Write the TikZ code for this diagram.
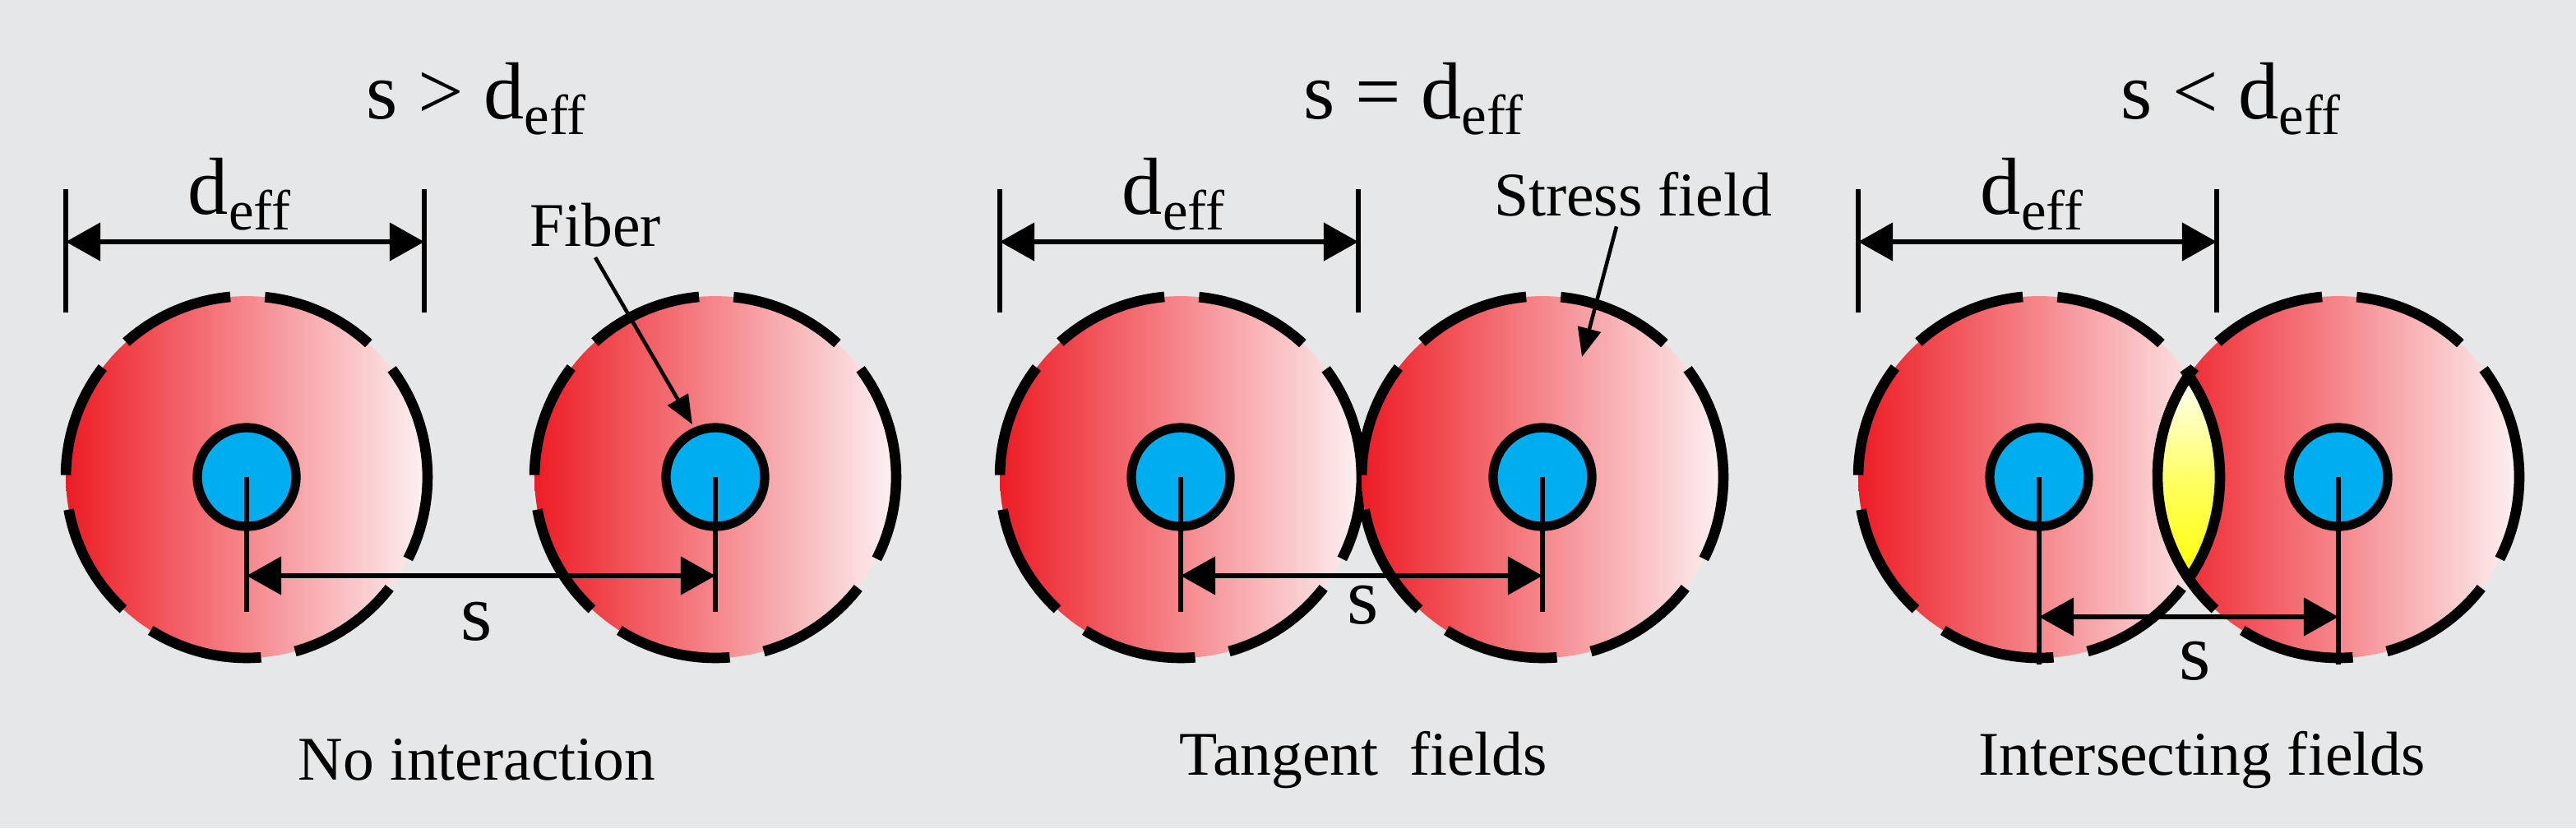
\documentclass[tikz,border=0pt]{standalone}
\usepackage{fontspec}
\setmainfont{Liberation Serif}
\usetikzlibrary{arrows.meta}
\definecolor{bggray}{HTML}{E6E7E8}
\definecolor{fieldred}{HTML}{ED1C24}
\definecolor{fieldpale}{HTML}{FDF2F3}
\definecolor{fibercyan}{HTML}{00AEEF}
\tikzset{
  field/.style={left color=fieldred, right color=fieldpale},
  rim/.style={line width=3.6pt, dash pattern=on 40pt off 12pt},
  fiber/.style={circle, fill=fibercyan, draw=black, line width=3.2pt, minimum size=1.2cm, inner sep=0pt},
  dim/.style={line width=1.7pt, {Triangle[length=12pt,width=13pt]}-{Triangle[length=12pt,width=13pt]}},
  tick/.style={line width=1.6pt},
  pointer/.style={line width=1.3pt, -{Triangle[length=10pt,width=8pt]}},
  big/.style={font=\fontsize{28}{32}\selectfont},
  small/.style={font=\fontsize{21.5}{25}\selectfont},
}
\begin{document}
\begin{tikzpicture}[x=0.02cm, y=-0.02cm]
  \fill[bggray] (0,0) rectangle (1566.5,503.5);
  \useasboundingbox (0,0) rectangle (1566.5,503.5);

  % stress fields
  \foreach \cx in {150,435,718,938,1240,1422} {
    \shade[field] (\cx,290) circle (2.2cm);
    \draw[rim] (\cx,290) circle (2.2cm);
  }

  % intersecting lens
  \begin{scope}
    \clip (1240,290) circle (2.2cm);
    \clip (1422,290) circle (2.2cm);
    \shade[top color=white, bottom color=yellow, middle color=white!40!yellow] (1300,226) rectangle (1362,354);
  \end{scope}
  \begin{scope}
    \clip (1240,290) circle (2.2cm);
    \draw[line width=3.6pt] (1422,290) circle (2.2cm);
  \end{scope}
  \begin{scope}
    \clip (1422,290) circle (2.2cm);
    \draw[line width=3.6pt] (1240,290) circle (2.2cm);
  \end{scope}

  % fibers
  \node[fiber] (f1) at (150,290) {};
  \node[fiber] (f2) at (435,290) {};
  \node[fiber] (f3) at (718,290) {};
  \node[fiber] (f4) at (938,290) {};
  \node[fiber] (f5) at (1240,290) {};
  \node[fiber] (f6) at (1422,290) {};

  % spacing s
  \coordinate (b1) at (150,372);
  \coordinate (b2) at (435,372);
  \coordinate (b3) at (718,372);
  \coordinate (b4) at (938,372);
  \coordinate (b5) at (1240,404);
  \coordinate (b6) at (1422,404);
  \draw[tick] (f1.center) -- (b1);
  \draw[tick] (f2.center) -- (b2);
  \draw[tick] (f3.center) -- (b3);
  \draw[tick] (f4.center) -- (b4);
  \draw[tick] (f5.center) -- (b5);
  \draw[tick] (f6.center) -- (b6);
  \coordinate (s1l) at (150,350);
  \coordinate (s1r) at (435,350);
  \coordinate (s2l) at (718,350);
  \coordinate (s2r) at (938,350);
  \coordinate (s3l) at (1240,375);
  \coordinate (s3r) at (1422,375);
  \draw[dim] (s1l) -- (s1r);
  \draw[dim] (s2l) -- (s2r);
  \draw[dim] (s3l) -- (s3r);
  \node[big] (s1) at (290,378) {s};
  \node[big] (s2) at (829,368) {s};
  \node[big] (s3) at (1335,402) {s};

  % effective diameter
  \foreach \lx/\i in {40/1,608/2,1130/3} {
    \coordinate (t\i a) at (\lx,115);
    \coordinate (t\i b) at (\lx,190);
    \coordinate (t\i c) at (\lx+218,115);
    \coordinate (t\i d) at (\lx+218,190);
    \draw[tick] (t\i a) -- (t\i b);
    \draw[tick] (t\i c) -- (t\i d);
    \draw[dim] (\lx,147) -- (\lx+218,147);
    \node[big] (d\i) at (\lx+106,118) {d\textsubscript{eff}};
  }

  % titles
  \node[big] (h1) at (290,60) {s > d\textsubscript{eff}};
  \node[big] (h2) at (860,60) {s = d\textsubscript{eff}};
  \node[big] (h3) at (1357,60) {s < d\textsubscript{eff}};

  % captions
  \node[small] (c1) at (290,462) {No interaction};
  \node[small] (c2) at (829,462) {Tangent\ \ fields};
  \node[small] (c3) at (1339,462) {Intersecting fields};

  % labels
  \node[small] (fib) at (362,137) {Fiber};
  \coordinate (fibtip) at (421,258);
  \draw[pointer] (fib.south) -- (fibtip);
  \node[small] (sf) at (993,118) {Stress field};
  \coordinate (sftip) at (962,217);
  \draw[pointer] (sf.south) ++(-10,0) -- (sftip);
\end{tikzpicture}
\end{document}
